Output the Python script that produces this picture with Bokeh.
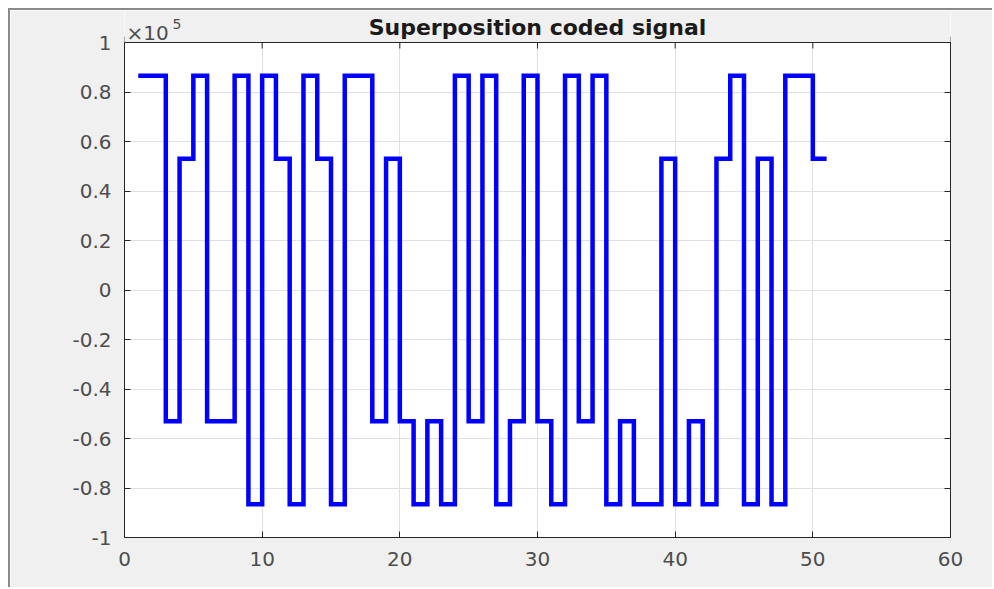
import math
from bokeh.plotting import figure
from bokeh.models import (LinearAxis, FixedTicker, CustomJSTickFormatter, Label, Range1d,
                          BoxAnnotation, Span)
from bokeh.embed import file_html
from bokeh.resources import INLINE

# ---- data ----
title_text = "Superposition coded signal"
step_x = list(range(1, 52))          # sample index edges 1..51
signal = [86600, 86600, -53000, 53000, 86600, -53000, -53000, 86600, -86600, 86600,
          53000, -86600, 86600, 53000, -86600, 86600, 86600, -53000, 53000, -53000,
          -86600, -53000, -86600, 86600, -53000, 86600, -86600, -53000, 86600, -53000,
          -86600, 86600, -53000, 86600, -86600, -53000, -86600, -86600, 53000, -86600,
          -53000, -86600, 53000, 86600, -86600, 53000, -86600, 86600, 86600, 53000]
x_ticks = [0, 10, 20, 30, 40, 50, 60]
y_ticks = [-100000, -80000, -60000, -40000, -20000, 0, 20000, 40000, 60000, 80000, 100000]
y_lo, y_hi = -100000, 100000
exponent_text = "5"

FONT = "DejaVu Sans"
AX = "#262626"
LBL = "#4d4d4d"
GRAY = "#f0f0f0"

# axes box is 495 px tall; the frame is extended 32 px upward to host the title texts
BOX_H, TOP_PAD = 495, 32
y_end = y_hi + TOP_PAD * (y_hi - y_lo) / BOX_H

p = figure(width=984, height=579, output_backend="svg", toolbar_location=None,
           x_range=Range1d(0, 60), y_range=Range1d(y_lo, y_end),
           min_border_left=114, min_border_right=44, min_border_top=0, min_border_bottom=52)
p.styles = {"margin-top": "8px", "margin-left": "8px",
            "border-top": "2px solid #8a8a8a", "border-left": "2px solid #8a8a8a"}

p.background_fill_color = "white"
p.border_fill_color = GRAY
p.outline_line_color = None

fmt = CustomJSTickFormatter(code="const v = Math.round(tick/1e4)/10; return v.toString();")
blank = CustomJSTickFormatter(code="return '';")

def style_axis(ax):
    ax.axis_line_color = AX
    ax.axis_line_width = 1
    ax.major_tick_line_color = AX
    ax.major_tick_in = 6
    ax.major_tick_out = 0
    ax.minor_tick_line_color = None
    ax.major_label_text_font = FONT
    ax.major_label_text_font_size = "20px"
    ax.major_label_text_color = LBL

p.xaxis.ticker = FixedTicker(ticks=x_ticks)
p.yaxis.ticker = FixedTicker(ticks=y_ticks)
p.yaxis.formatter = fmt
p.yaxis.bounds = (y_lo, y_hi)
style_axis(p.xaxis[0])
style_axis(p.yaxis[0])
p.xaxis.major_label_standoff = 14
p.yaxis.major_label_standoff = 13

right = LinearAxis(ticker=FixedTicker(ticks=y_ticks), formatter=blank, bounds=(y_lo, y_hi))
style_axis(right)
right.major_label_standoff = 0
p.add_layout(right, "right")

p.xgrid.ticker = FixedTicker(ticks=x_ticks)
p.ygrid.ticker = FixedTicker(ticks=y_ticks)
p.grid.grid_line_color = "#e0e0e0"
p.grid.grid_line_width = 1

p.step(x=step_x, y=signal + [signal[-1]], mode="after",
       line_color="#0000ff", line_width=4.5, line_join="miter")

# top edge of the axes box: inward tick marks, then the band above the box
p.scatter(x=x_ticks, y=[y_hi] * len(x_ticks), marker="dash", angle=math.pi / 2, size=12,
          line_color=AX, line_width=1)
p.add_layout(BoxAnnotation(bottom=y_hi, fill_color=GRAY, fill_alpha=1.0, line_color=None))
p.add_layout(Span(location=y_hi, dimension="width", line_color=AX, line_width=1))

p.add_layout(Label(x=30, y=y_hi, text=title_text, y_offset=15,
                   text_font=FONT, text_font_size="22px", text_font_style="bold",
                   text_color="#1a1a1a", text_baseline="alphabetic", text_align="center"))
p.add_layout(Label(x=0, y=y_hi, text="×10", x_offset=2, y_offset=10,
                   text_font=FONT, text_font_size="20px", text_color=LBL,
                   text_baseline="alphabetic", text_align="left"))
p.add_layout(Label(x=0, y=y_hi, text=exponent_text, x_offset=48, y_offset=19,
                   text_font=FONT, text_font_size="14px", text_color=LBL,
                   text_baseline="alphabetic", text_align="left"))

open("out.html", "w").write(file_html(p, INLINE))
